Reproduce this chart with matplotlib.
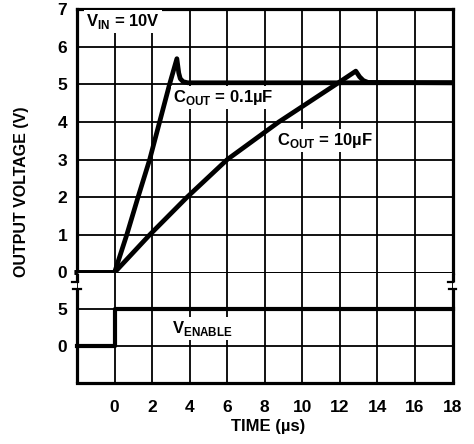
import matplotlib
matplotlib.use("Agg")
import matplotlib.pyplot as plt

plt.rcParams['font.family'] = ['Liberation Sans', 'DejaVu Sans']
plt.rcParams['font.weight'] = 'bold'
plt.rcParams['mathtext.fontset'] = 'custom'
plt.rcParams['mathtext.rm'] = 'Liberation Sans:bold'

# ---- data ----
t_fast = [-2, 0, 0.65, 1.25, 1.87, 2.4, 2.93, 3.32, 3.42, 3.5, 3.65, 3.9, 18]
v_fast = [0, 0, 1.0, 2.0, 3.0, 4.0, 5.0, 5.68, 5.3, 5.15, 5.07, 5.04, 5.04]

t_slow = [-2, 0, 1.87, 3.86, 6.0, 8.75, 11.8, 12.85, 13.05, 13.25, 13.5, 18]
v_slow = [0, 0, 1.0, 2.0, 3.0, 4.0, 5.0, 5.35, 5.2, 5.1, 5.05, 5.04]

t_enable = [-2, 0, 0, 18]
v_enable = [0, 0, 5, 5]

x_ticks = [0, 2, 4, 6, 8, 10, 12, 14, 16, 18]
x_grid = [-2, 0, 2, 4, 6, 8, 10, 12, 14, 16, 18]
y_ticks_top = [0, 1, 2, 3, 4, 5, 6, 7]
y_ticks_bot = [0, 5]

W, H = 474, 444
fig = plt.figure(figsize=(W / 100, H / 100), dpi=100)

def fx(px):
    return px / W

def fy(py):
    return 1 - py / H

left, right = 77, 452.5
top, zero, bottom = 9, 272.5, 383
ax1 = fig.add_axes([fx(left), fy(zero), fx(right - left), fy(top) - fy(zero)])
ax2 = fig.add_axes([fx(left), fy(bottom), fx(right - left), fy(zero) - fy(bottom)])

grid_lw = 1.3
spine_lw = 2.3

for ax in (ax1, ax2):
    ax.set_xlim(-2, 18)
    ax.set_xticks(x_grid)
    ax.tick_params(length=0, labelsize=12.5, pad=7)
    ax.tick_params(axis='x', pad=12)
    ax.grid(True, color='black', lw=grid_lw)
    ax.set_axisbelow(True)
    for s in ax.spines.values():
        s.set_linewidth(spine_lw)

ax1.set_ylim(0, 7)
ax1.set_yticks(y_ticks_top)
ax1.set_xticklabels([])
ax1.spines['bottom'].set_linewidth(grid_lw)

ax2.set_ylim(-5, 10)
ax2.set_yticks(y_ticks_bot)
ax2.set_xticklabels([''] + [str(v) for v in x_ticks])
ax2.spines['top'].set_visible(False)
ax2.spines['left'].set_visible(False)
ax2.spines['right'].set_visible(False)

# broken left/right spines with small break marks
for xe in (-2, 18):
    ax2.plot([xe, xe], [10, 8.75], color='black', lw=spine_lw, clip_on=False, solid_capstyle='butt')
    ax2.plot([xe, xe], [7.7, -5], color='black', lw=spine_lw, clip_on=False, solid_capstyle='butt')
    ax2.plot([xe - 0.25, xe + 0.05], [8.75, 8.75], color='black', lw=1.6, clip_on=False)
    ax2.plot([xe - 0.2, xe + 0.2], [7.7, 7.7], color='black', lw=1.6, clip_on=False)

# curves
ax1.plot(t_fast, v_fast, color='black', lw=3.4, solid_joinstyle='round', clip_on=False, zorder=3)
ax1.plot(t_slow, v_slow, color='black', lw=3.4, solid_joinstyle='round', clip_on=False, zorder=3)
ax2.plot(t_enable, v_enable, color='black', lw=3.0, clip_on=False, zorder=3)

box = dict(facecolor='white', edgecolor='none', pad=1.5)
fs = 12
ax1.text(-1.5, 6.68, r'V$_\mathregular{IN}$ = 10V', fontsize=fs, ha='left', va='center', bbox=box, zorder=4)
ax1.text(3.1, 4.66, r'C$_\mathregular{OUT}$ = 0.1µF', fontsize=fs, ha='left', va='center', bbox=box, zorder=4)
ax1.text(8.65, 3.5, r'C$_\mathregular{OUT}$ = 10µF', fontsize=fs, ha='left', va='center', bbox=box, zorder=4)
ax2.text(3.05, 2.4, r'V$_\mathregular{ENABLE}$', fontsize=fs, ha='left', va='center', bbox=box, zorder=4)

fig.text(fx(22), fy(192), 'OUTPUT VOLTAGE (V)', rotation=90, ha='center', va='center', fontsize=11.5)
fig.text(fx(268), fy(426), 'TIME (µs)', ha='center', va='center', fontsize=12)

fig.savefig('out.png', dpi=100)
